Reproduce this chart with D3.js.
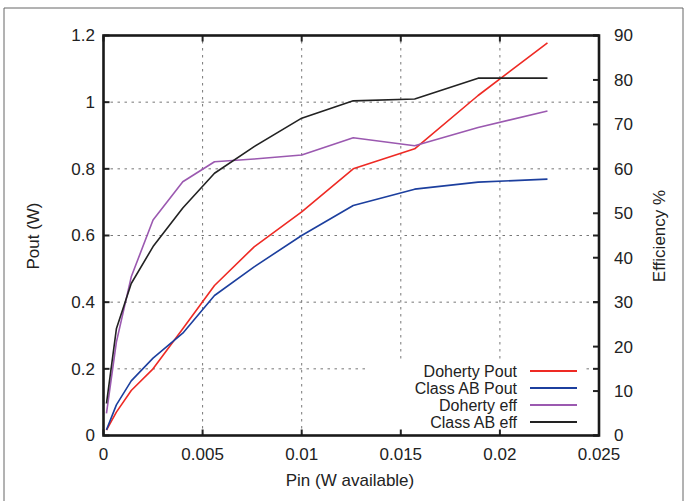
<!DOCTYPE html>
<html lang="en">
<head>
<meta charset="UTF-8">
<title>Doherty vs Class AB</title>
<script src="https://d3js.org/d3.v7.min.js"></script>
<style>
  body { margin: 0; background: #fff; }
  text { font-family: "Liberation Sans", Arial, Helvetica, sans-serif; fill: #222; }
</style>
</head>
<body>
<svg id="chart" width="689" height="501"></svg>
<script>
  // data
  var pin          = [0.00015, 0.00065, 0.0014, 0.0025, 0.004, 0.0056, 0.0076, 0.01, 0.0126, 0.0157, 0.0189, 0.0224];
  var dohertyPout  = [0.016, 0.07, 0.135, 0.2, 0.32, 0.45, 0.566, 0.671, 0.8, 0.86, 1.02, 1.178];
  var classABPout  = [0.017, 0.092, 0.164, 0.232, 0.307, 0.42, 0.506, 0.6, 0.69, 0.739, 0.76, 0.769];
  var dohertyEff   = [5.0, 21, 35.7, 48.5, 57.1, 61.6, 62.2, 63.1, 67, 65.2, 69.3, 73];
  var classABEff   = [7.2, 24, 34.2, 42.5, 51.2, 59, 65, 71.4, 75.3, 75.7, 80.4, 80.4];

  var xTicks  = [0, 0.005, 0.01, 0.015, 0.02, 0.025];
  var yTicks  = [0, 0.2, 0.4, 0.6, 0.8, 1, 1.2];
  var y2Ticks = [0, 10, 20, 30, 40, 50, 60, 70, 80, 90];

  var series = [
    {name: "Doherty Pout",  values: dohertyPout, axis: "y",  color: "#ee2a24"},
    {name: "Class AB Pout", values: classABPout, axis: "y",  color: "#1c3f9e"},
    {name: "Doherty eff",   values: dohertyEff,  axis: "y2", color: "#9b59b0"},
    {name: "Class AB eff",  values: classABEff,  axis: "y2", color: "#222222"}
  ];

  // plot box (window.top is reserved, so plain names are avoided)
  var plotL = 103.5, plotR = 599, plotT = 35.5, plotB = 435.5;
  var fs = "17px";

  var svg = d3.select("#chart");

  // outer frame of the figure
  svg.append("path")
    .attr("d", "M4,501 V8 H683 V501")
    .attr("fill", "none")
    .attr("stroke", "#666")
    .attr("stroke-width", 1);

  var x  = d3.scaleLinear().domain([0, 0.025]).range([plotL, plotR]);
  var y  = d3.scaleLinear().domain([0, 1.2]).range([plotB, plotT]);
  var y2 = d3.scaleLinear().domain([0, 90]).range([plotB, plotT]);

  // grid
  var grid = svg.append("g")
    .attr("stroke", "#777")
    .attr("stroke-width", 1)
    .attr("stroke-dasharray", "2.5,4.5");
  grid.selectAll("line.vx")
    .data(xTicks.slice(1, -1))
    .enter().append("line")
    .attr("x1", function(d) { return x(d); })
    .attr("x2", function(d) { return x(d); })
    .attr("y1", plotB).attr("y2", plotT);
  grid.selectAll("line.hy")
    .data(yTicks.slice(1, -1))
    .enter().append("line")
    .attr("y1", function(d) { return y(d); })
    .attr("y2", function(d) { return y(d); })
    .attr("x1", plotL).attr("x2", plotR);

  // lines
  var line = function(s) {
    var sc = s.axis == "y" ? y : y2;
    return d3.line()
      .x(function(d, i) { return x(pin[i]); })
      .y(function(d) { return sc(d); })(s.values);
  };

  svg.selectAll("path.series")
    .data(series)
    .enter().append("path")
    .attr("class", "series")
    .attr("d", line)
    .attr("fill", "none")
    .attr("stroke", function(d) { return d.color; })
    .attr("stroke-width", 1.6)
    .attr("stroke-linejoin", "round");

  // legend with opaque box
  var legX = 517, legY = 371, legStep = 17;
  svg.append("rect")
    .attr("x", 368).attr("y", 362)
    .attr("width", 218).attr("height", 72)
    .attr("fill", "#fff");
  var leg = svg.selectAll("g.leg")
    .data(series)
    .enter().append("g")
    .attr("class", "leg")
    .attr("transform", function(d, i) { return "translate(0," + (legY + i * legStep) + ")"; });
  leg.append("text")
    .attr("x", legX)
    .attr("dy", "0.35em")
    .attr("text-anchor", "end")
    .style("font-size", "16px")
    .text(function(d) { return d.name; });
  leg.append("line")
    .attr("x1", 530).attr("x2", 577)
    .attr("stroke", function(d) { return d.color; })
    .attr("stroke-width", 2.2);

  // axes: ticks inward, mirrored
  var tickLen = 6;
  var axisG = svg.append("g")
    .attr("stroke", "#222")
    .attr("stroke-width", 2);

  xTicks.forEach(function(t) {
    axisG.append("line").attr("x1", x(t)).attr("x2", x(t)).attr("y1", plotB).attr("y2", plotB - tickLen);
    axisG.append("line").attr("x1", x(t)).attr("x2", x(t)).attr("y1", plotT).attr("y2", plotT + tickLen);
  });
  yTicks.forEach(function(t) {
    axisG.append("line").attr("y1", y(t)).attr("y2", y(t)).attr("x1", plotL).attr("x2", plotL + tickLen);
    axisG.append("line").attr("y1", y(t)).attr("y2", y(t)).attr("x1", plotR).attr("x2", plotR - tickLen);
  });
  y2Ticks.forEach(function(t) {
    axisG.append("line").attr("y1", y2(t)).attr("y2", y2(t)).attr("x1", plotR).attr("x2", plotR - tickLen);
  });

  svg.append("rect")
    .attr("x", plotL).attr("y", plotT)
    .attr("width", plotR - plotL).attr("height", plotB - plotT)
    .attr("fill", "none")
    .attr("stroke", "#1a1a1a")
    .attr("stroke-width", 2.6);

  // tick labels
  svg.selectAll("text.xl")
    .data(xTicks)
    .enter().append("text")
    .attr("x", function(d) { return x(d); })
    .attr("y", 454)
    .attr("dy", "0.35em")
    .attr("text-anchor", "middle")
    .style("font-size", fs)
    .text(function(d) { return String(d); });

  svg.selectAll("text.yl")
    .data(yTicks)
    .enter().append("text")
    .attr("x", 95)
    .attr("y", function(d) { return y(d); })
    .attr("dy", "0.35em")
    .attr("text-anchor", "end")
    .style("font-size", fs)
    .text(function(d) { return String(d); });

  svg.selectAll("text.y2l")
    .data(y2Ticks)
    .enter().append("text")
    .attr("x", 614)
    .attr("y", function(d) { return y2(d); })
    .attr("dy", "0.35em")
    .attr("text-anchor", "start")
    .style("font-size", fs)
    .text(function(d) { return String(d); });

  // axis titles
  svg.append("text")
    .attr("x", 350).attr("y", 480)
    .attr("dy", "0.35em")
    .attr("text-anchor", "middle")
    .style("font-size", fs)
    .text("Pin (W available)");

  svg.append("text")
    .attr("transform", "translate(33,236) rotate(-90)")
    .attr("dy", "0.35em")
    .attr("text-anchor", "middle")
    .style("font-size", fs)
    .text("Pout (W)");

  svg.append("text")
    .attr("transform", "translate(659,236) rotate(-90)")
    .attr("dy", "0.35em")
    .attr("text-anchor", "middle")
    .style("font-size", fs)
    .text("Efficiency %");
</script>
</body>
</html>
